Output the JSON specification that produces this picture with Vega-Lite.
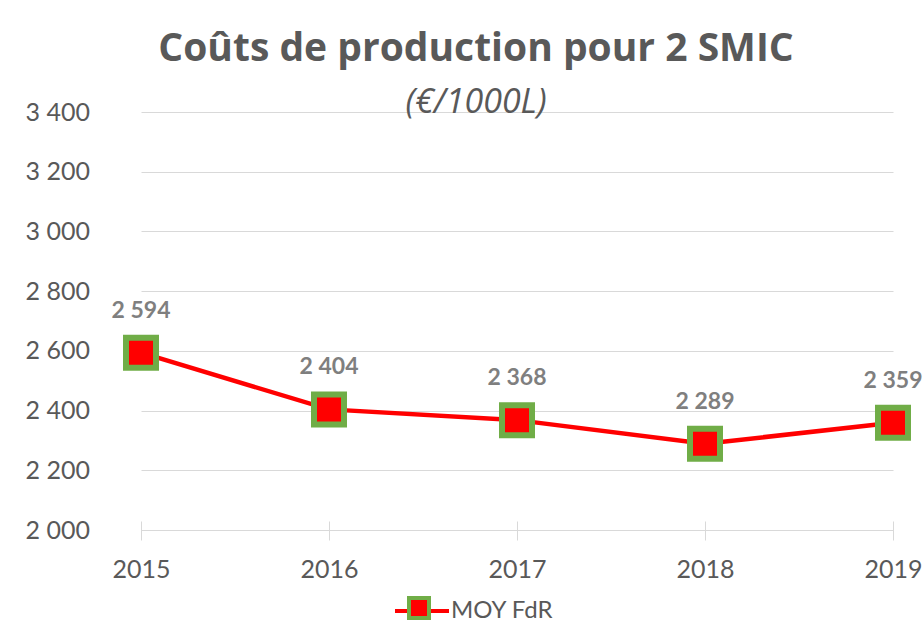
{
  "$schema": "https://vega.github.io/schema/vega-lite/v6.json",
  "autosize": "none",
  "width": 752,
  "height": 418,
  "padding": {"left": 141, "top": 112, "right": 31, "bottom": 103},
  "background": "white",
  "title": {
    "text": "Coûts de production pour 2 SMIC",
    "subtitle": "(€/1000L)",
    "anchor": "middle",
    "dx": -41,
    "offset": -20,
    "font": "Open Sans",
    "fontSize": 39,
    "fontWeight": "bold",
    "color": "#595959",
    "subtitleFont": "Open Sans",
    "subtitleFontSize": 34,
    "subtitleFontStyle": "italic",
    "subtitleColor": "#595959",
    "subtitlePadding": 17
  },
  "data": {
    "values": [
      {"annee": "2015", "cout": 2594, "serie": "MOY FdR"},
      {"annee": "2016", "cout": 2404, "serie": "MOY FdR"},
      {"annee": "2017", "cout": 2368, "serie": "MOY FdR"},
      {"annee": "2018", "cout": 2289, "serie": "MOY FdR"},
      {"annee": "2019", "cout": 2359, "serie": "MOY FdR"}
    ]
  },
  "encoding": {
    "x": {
      "field": "annee",
      "type": "ordinal",
      "scale": {"type": "point", "padding": 0},
      "axis": {
        "title": null,
        "labelAngle": 0,
        "domain": false,
        "grid": false,
        "offset": -9,
        "tickSize": 19,
        "tickColor": "#d9d9d9",
        "tickWidth": 1,
        "labelFont": "Lato",
        "labelFontSize": 25,
        "labelColor": "#595959",
        "labelBaseline": "middle",
        "labelPadding": 29
      }
    },
    "y": {
      "field": "cout",
      "type": "quantitative",
      "scale": {"domain": [2000, 3400], "nice": false, "zero": false},
      "axis": {
        "title": null,
        "values": [2000, 2200, 2400, 2600, 2800, 3000, 3200, 3400],
        "format": ",d",
        "domain": false,
        "ticks": false,
        "tickSize": 0,
        "grid": true,
        "gridColor": "#d9d9d9",
        "gridWidth": 1,
        "labelAlign": "left",
        "labelPadding": 116,
        "labelFont": "Lato",
        "labelFontSize": 25,
        "labelColor": "#595959"
      }
    }
  },
  "layer": [
    {
      "mark": {"type": "line", "strokeWidth": 4.5},
      "encoding": {
        "stroke": {
          "field": "serie",
          "type": "nominal",
          "scale": {"range": ["#FF0000"]},
          "legend": {
            "orient": "none",
            "legendX": 252,
            "legendY": 470,
            "title": null,
            "padding": 0,
            "symbolType": "stroke",
            "symbolSize": 2916,
            "symbolStrokeWidth": 4,
            "symbolStrokeColor": "#FF0000",
            "labelFont": "Lato",
            "labelFontSize": 24,
            "labelColor": "#595959",
            "labelOffset": 0
          }
        }
      }
    },
    {
      "mark": {"type": "point", "shape": "square", "filled": true, "size": 900, "opacity": 1, "stroke": "#70AD47", "strokeWidth": 6},
      "encoding": {
        "fill": {
          "field": "serie",
          "type": "nominal",
          "scale": {"range": ["#FF0000"]},
          "legend": {
            "orient": "none",
            "legendX": 266,
            "legendY": 484,
            "title": null,
            "padding": 0,
            "symbolType": "square",
            "symbolSize": 400,
            "symbolStrokeWidth": 4,
            "symbolStrokeColor": "#70AD47",
            "symbolFillColor": "#FF0000",
            "labelExpr": "''",
            "labelFontSize": 1
          }
        }
      }
    },
    {
      "mark": {"type": "text", "dy": -42, "font": "Lato", "fontSize": 23, "fontWeight": "bold", "color": "#7f7f7f"},
      "encoding": {
        "text": {"field": "cout", "type": "quantitative", "format": ",d"}
      }
    }
  ],
  "resolve": {"scale": {"fill": "independent", "stroke": "independent"}},
  "config": {
    "locale": {"number": {"decimal": ",", "thousands": " ", "grouping": [3], "currency": ["", " €"]}},
    "view": {"stroke": null}
  }
}
